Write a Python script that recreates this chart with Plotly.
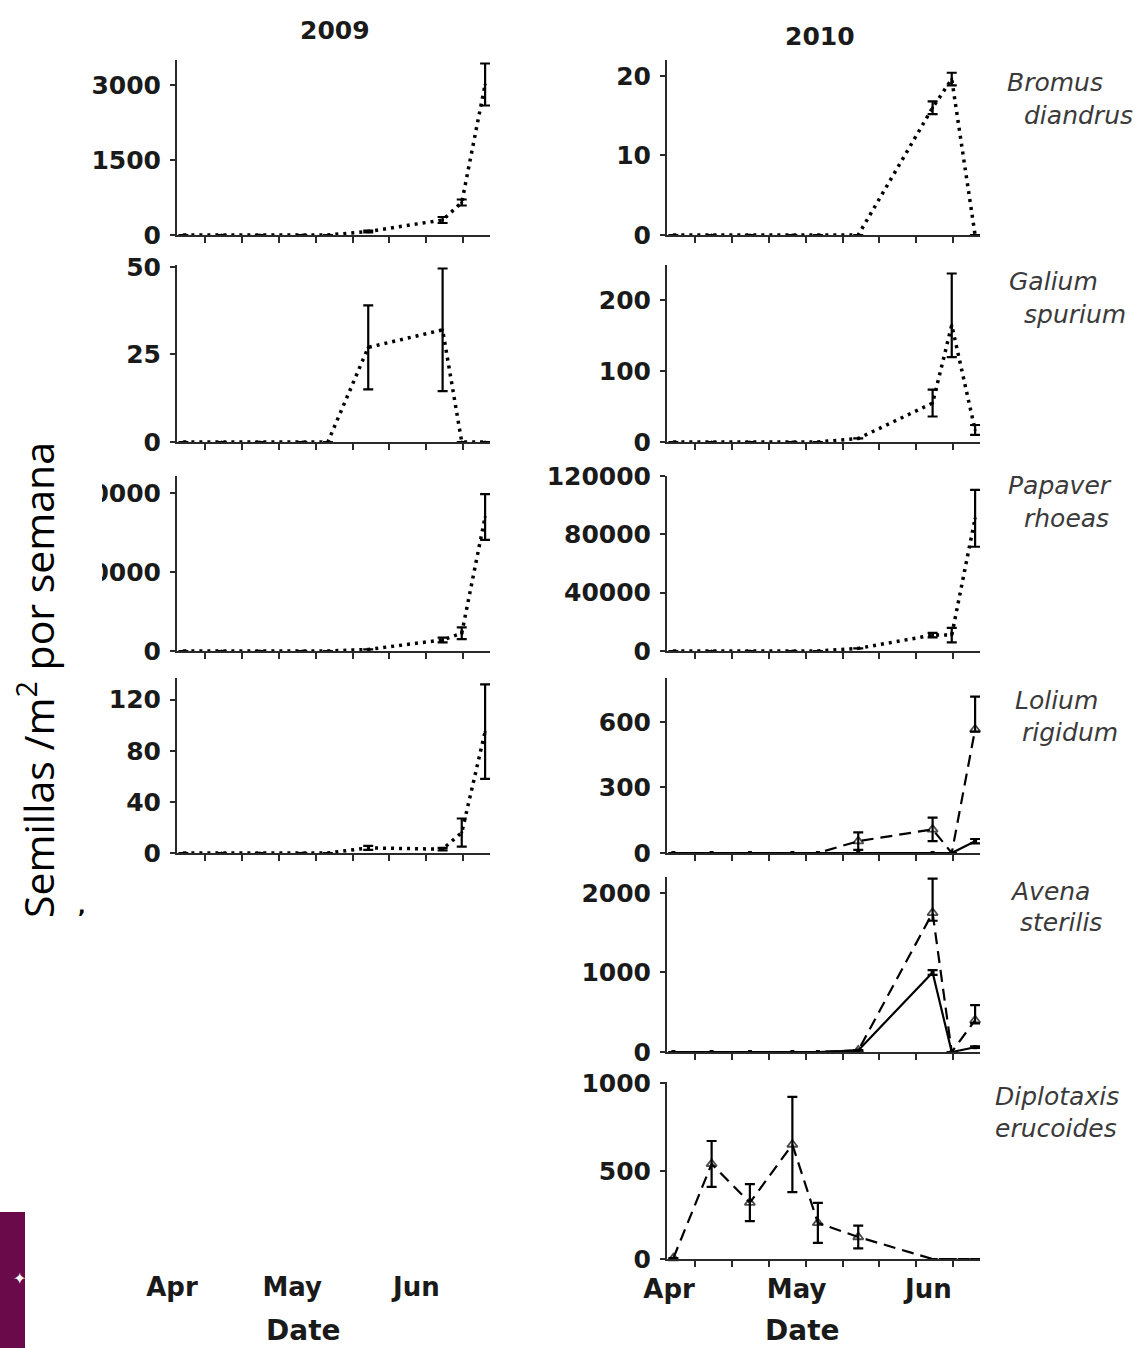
import plotly.graph_objects as go

W, H = 1141, 1348

# ---------------- data (days after 1 April) ----------------
DAYS = [1, 10, 19, 29, 35, 44.5, 62, 66.5, 72]

# 2009
bromus09 = [0, 0, 0, 0, 0, 70, 300, 650, 3010]
bromus09_err = [0, 0, 0, 0, 0, 20, 60, 60, 420]
galium09 = [0, 0, 0, 0, 0, 27, 32, 0, 0]
galium09_err = [0, 0, 0, 0, 0, 12, 17.5, 0, 0]
papaver09 = [0, 0, 0, 0, 0, 200, 1400, 2250, 17000]
papaver09_err = [0, 0, 0, 0, 0, 0, 300, 750, 2900]
lolium09 = [0, 0, 0, 0, 0, 4, 3, 16, 95]
lolium09_err = [0, 0, 0, 0, 0, 1.5, 1, 11, 37]

# 2010
bromus10 = [0, 0, 0, 0, 0, 0, 16, 19.6, 0]
bromus10_err = [0, 0, 0, 0, 0, 0, 0.8, 0.8, 0]
galium10 = [0, 0, 0, 0, 0, 5, 55, 165, 17]
galium10_errp = [0, 0, 0, 0, 0, 0, 19, 73, 7]
galium10_errm = [0, 0, 0, 0, 0, 0, 19, 45, 7]
papaver10 = [0, 0, 0, 0, 0, 1800, 10900, 10900, 91000]
papaver10_err = [0, 0, 0, 0, 0, 0, 1500, 5000, 19500]
lolium10_a = [0, 0, 0, 0, 0, 54, 108, 0, 565]
lolium10_a_errp = [0, 0, 0, 0, 0, 40, 54, 0, 150]
lolium10_a_errm = [0, 0, 0, 0, 0, 40, 54, 0, 10]
lolium10_b = [0, 0, 0, 0, 0, 0, 0, 0, 54]
lolium10_b_err = [0, 0, 0, 0, 0, 0, 0, 0, 10]
avena10_a = [0, 0, 0, 0, 0, 20, 1750, 0, 400]
avena10_a_errp = [0, 0, 0, 0, 0, 0, 430, 0, 190]
avena10_a_errm = [0, 0, 0, 0, 0, 0, 100, 0, 40]
avena10_b = [0, 0, 0, 0, 0, 20, 1000, 0, 60]
avena10_b_err = [0, 0, 0, 0, 0, 0, 30, 0, 10]
diplo10 = [5, 540, 320, 650, 205, 125, 0, 0, 0]
diplo10_err = [0, 130, 105, 270, 114, 65, 0, 0, 0]

MONTH_VALS = [0, 30, 61]
MONTH_TEXT = ["Apr", "May", "Jun"]
YEARS = ["2009", "2010"]
SPECIES = [("Bromus", "diandrus"), ("Galium", "spurium"), ("Papaver", "rhoeas"),
           ("Lolium", "rigidum"), ("Avena", "sterilis"), ("Diplotaxis", "erucoides")]

# ---------------- layout helpers ----------------
def PX(x):
    return x / W

def PY(y):
    return 1 - y / H

COLX = {0: (177, 490), 1: (667, 980)}
ROWY = [(60, 235), (265, 442), (476, 651), (678, 853), (877, 1052), (1082, 1259)]
XRANGE = [-0.5, 73.15]
MINOR_TICKS = [6 + 8.7 * k for k in range(8)]

DOT = dict(color="black", width=3.5, dash="3px,5px")
DASH = dict(color="black", width=2.2, dash="12px,7px")
SOLID = dict(color="black", width=2.2)
TICKFONT = dict(family="DejaVu Sans", size=25, color="#1a1a1a", weight="bold")

def ser(y, ep, em=None, line=DOT, kind="dot"):
    return dict(y=y, ep=ep, em=em, line=line, kind=kind)

def marker_for(kind, y):
    if kind == "tri":
        return dict(symbol="triangle-up-open", color="black", line=dict(width=1.8),
                    size=[9 if v > 0 else 0 for v in y])
    if kind == "sol":
        return dict(symbol="square", size=4, color="black")
    return dict(symbol="circle", size=3, color="black")

panels = [
    # col, row, yrange, ytickvals, series
    (0, 0, [0, 3500], [0, 1500, 3000], [ser(bromus09, bromus09_err)]),
    (1, 0, [0, 22], [0, 10, 20], [ser(bromus10, bromus10_err)]),
    (0, 1, [0, 50.5], [0, 25, 50], [ser(galium09, galium09_err)]),
    (1, 1, [0, 250], [0, 100, 200], [ser(galium10, galium10_errp, galium10_errm)]),
    (0, 2, [0, 22200], [0, 10000, 20000], [ser(papaver09, papaver09_err)]),
    (1, 2, [0, 120000], [0, 40000, 80000, 120000], [ser(papaver10, papaver10_err)]),
    (0, 3, [0, 137], [0, 40, 80, 120], [ser(lolium09, lolium09_err)]),
    (1, 3, [0, 800], [0, 300, 600],
     [ser(lolium10_b, lolium10_b_err, line=SOLID, kind="sol"),
      ser(lolium10_a, lolium10_a_errp, lolium10_a_errm, line=DASH, kind="tri")]),
    (1, 4, [0, 2200], [0, 1000, 2000],
     [ser(avena10_b, avena10_b_err, line=SOLID, kind="sol"),
      ser(avena10_a, avena10_a_errp, avena10_a_errm, line=DASH, kind="tri")]),
    (1, 5, [0, 1005], [0, 500, 1000], [ser(diplo10, diplo10_err, line=DASH, kind="tri")]),
]

fig = go.Figure()
layout = dict(
    width=W, height=H, autosize=False,
    margin=dict(l=0, r=0, t=0, b=0, pad=0, autoexpand=False),
    paper_bgcolor="white", plot_bgcolor="white", showlegend=False,
)

for i, (col, row, yr, ytv, series) in enumerate(panels, start=1):
    xl, xr = COLX[col]
    yt, yb = ROWY[row]
    bottom = (col == 1 and row == 5)
    layout[f"xaxis{i}"] = dict(
        domain=[PX(xl), PX(xr)], range=XRANGE, anchor=f"y{i}", automargin=False,
        showline=True, linecolor="#2a2a2a", linewidth=2, mirror=False,
        showgrid=False, zeroline=False,
        tickmode="array", tickvals=MONTH_VALS, ticktext=MONTH_TEXT, ticks="",
        showticklabels=bottom,
        tickfont=dict(family="DejaVu Sans", size=26, color="#1a1a1a", weight="bold"),
        ticklabelstandoff=6,
        minor=dict(tickmode="array", tickvals=MINOR_TICKS, ticks="outside", ticklen=6,
                   tickwidth=1.5, tickcolor="#2a2a2a"),
    )
    layout[f"yaxis{i}"] = dict(
        domain=[PY(yb), PY(yt)], range=yr, anchor=f"x{i}", automargin=False,
        showline=True, linecolor="#2a2a2a", linewidth=2,
        showgrid=False, zeroline=False,
        tickmode="array", tickvals=ytv, ticktext=[str(v) for v in ytv],
        ticks="outside", ticklen=5, tickwidth=1.5, tickcolor="#2a2a2a",
        tickfont=TICKFONT, ticklabelstandoff=4,
    )
    for s in series:
        sym = s["em"] is None
        fig.add_trace(go.Scatter(
            x=DAYS, y=s["y"], xaxis=f"x{i}", yaxis=f"y{i}",
            mode="lines+markers", line=s["line"],
            marker=marker_for(s["kind"], s["y"]), cliponaxis=False,
            error_y=dict(type="data", array=s["ep"],
                         arrayminus=s["ep"] if sym else s["em"],
                         symmetric=sym, color="black", thickness=2.2, width=5),
        ))

# hidden axis carrying the floating 2009 month labels
k = len(panels) + 1
layout[f"xaxis{k}"] = dict(
    domain=[PX(170), PX(465)], range=XRANGE, anchor=f"y{k}", automargin=False,
    showline=False, showgrid=False, zeroline=False, ticks="",
    tickmode="array", tickvals=MONTH_VALS, ticktext=MONTH_TEXT,
    tickfont=dict(family="DejaVu Sans", size=26, color="#1a1a1a", weight="bold"),
    ticklabelstandoff=8,
)
layout[f"yaxis{k}"] = dict(domain=[PY(1261), PY(1082)], range=[0, 1], anchor=f"x{k}",
                           visible=False, automargin=False)
fig.add_trace(go.Scatter(x=[None], y=[None], xaxis=f"x{k}", yaxis=f"y{k}", mode="markers"))

annotations = []
# year titles
for txt, x, y in [(YEARS[0], 335, 30), (YEARS[1], 820, 36)]:
    annotations.append(dict(text=txt, x=PX(x), y=PY(y), xref="paper", yref="paper",
                            showarrow=False, xanchor="center", yanchor="middle",
                            font=dict(family="DejaVu Sans", size=25, color="#1a1a1a", weight="bold")))
# species names
SP_POS = [((1005, 83), (1022, 115)), ((1007, 282), (1022, 314)), ((1006, 486), (1022, 518)),
          ((1013, 700), (1020, 732)), ((1008, 891), (1018, 922)), ((993, 1096), (993, 1128))]
for (g, sp), ((x1, y1), (x2, y2)) in zip(SPECIES, SP_POS):
    for txt, x, y in [(g, x1, y1), (sp, x2, y2)]:
        annotations.append(dict(text=f"<i>{txt}</i>", x=PX(x), y=PY(y), xref="paper", yref="paper",
                                showarrow=False, xanchor="left", yanchor="middle",
                                font=dict(family="DejaVu Sans", size=25, color="#3a3a3a")))
# Date labels (kept fully inside the page)
for x in (303, 802):
    annotations.append(dict(text="Date", x=PX(x), y=PY(1348), xref="paper", yref="paper",
                            showarrow=False, xanchor="center", yanchor="bottom",
                            borderpad=0,
                            font=dict(family="DejaVu Sans", size=28, color="#1a1a1a", weight="bold")))
# y title
annotations.append(dict(text="Semillas /m<sup>2</sup> por semana", x=PX(36), y=PY(680),
                        xref="paper", yref="paper", showarrow=False, textangle=-90,
                        xanchor="center", yanchor="middle",
                        font=dict(family="Open Sans", size=41, color="black")))
annotations.append(dict(text="<b>,</b>", x=PX(76), y=PY(920), xref="paper", yref="paper",
                        showarrow=False, font=dict(family="DejaVu Sans", size=20, color="black")))
annotations.append(dict(text="✦", x=PX(11), y=PY(1290), xref="paper", yref="paper",
                        showarrow=False, font=dict(family="DejaVu Sans", size=16, color="white")))

shapes = [
    dict(type="rect", xref="paper", yref="paper", x0=PX(0), x1=PX(102), y0=PY(918), y1=PY(483),
         fillcolor="white", line=dict(width=0), layer="above"),
    dict(type="rect", xref="paper", yref="paper", x0=PX(0), x1=PX(25), y0=PY(1348), y1=PY(1212),
         fillcolor="#6b0a4b", line=dict(width=0), layer="above"),
]

layout["annotations"] = annotations
layout["shapes"] = shapes
fig.update_layout(**layout)
fig.write_html("out.html")
